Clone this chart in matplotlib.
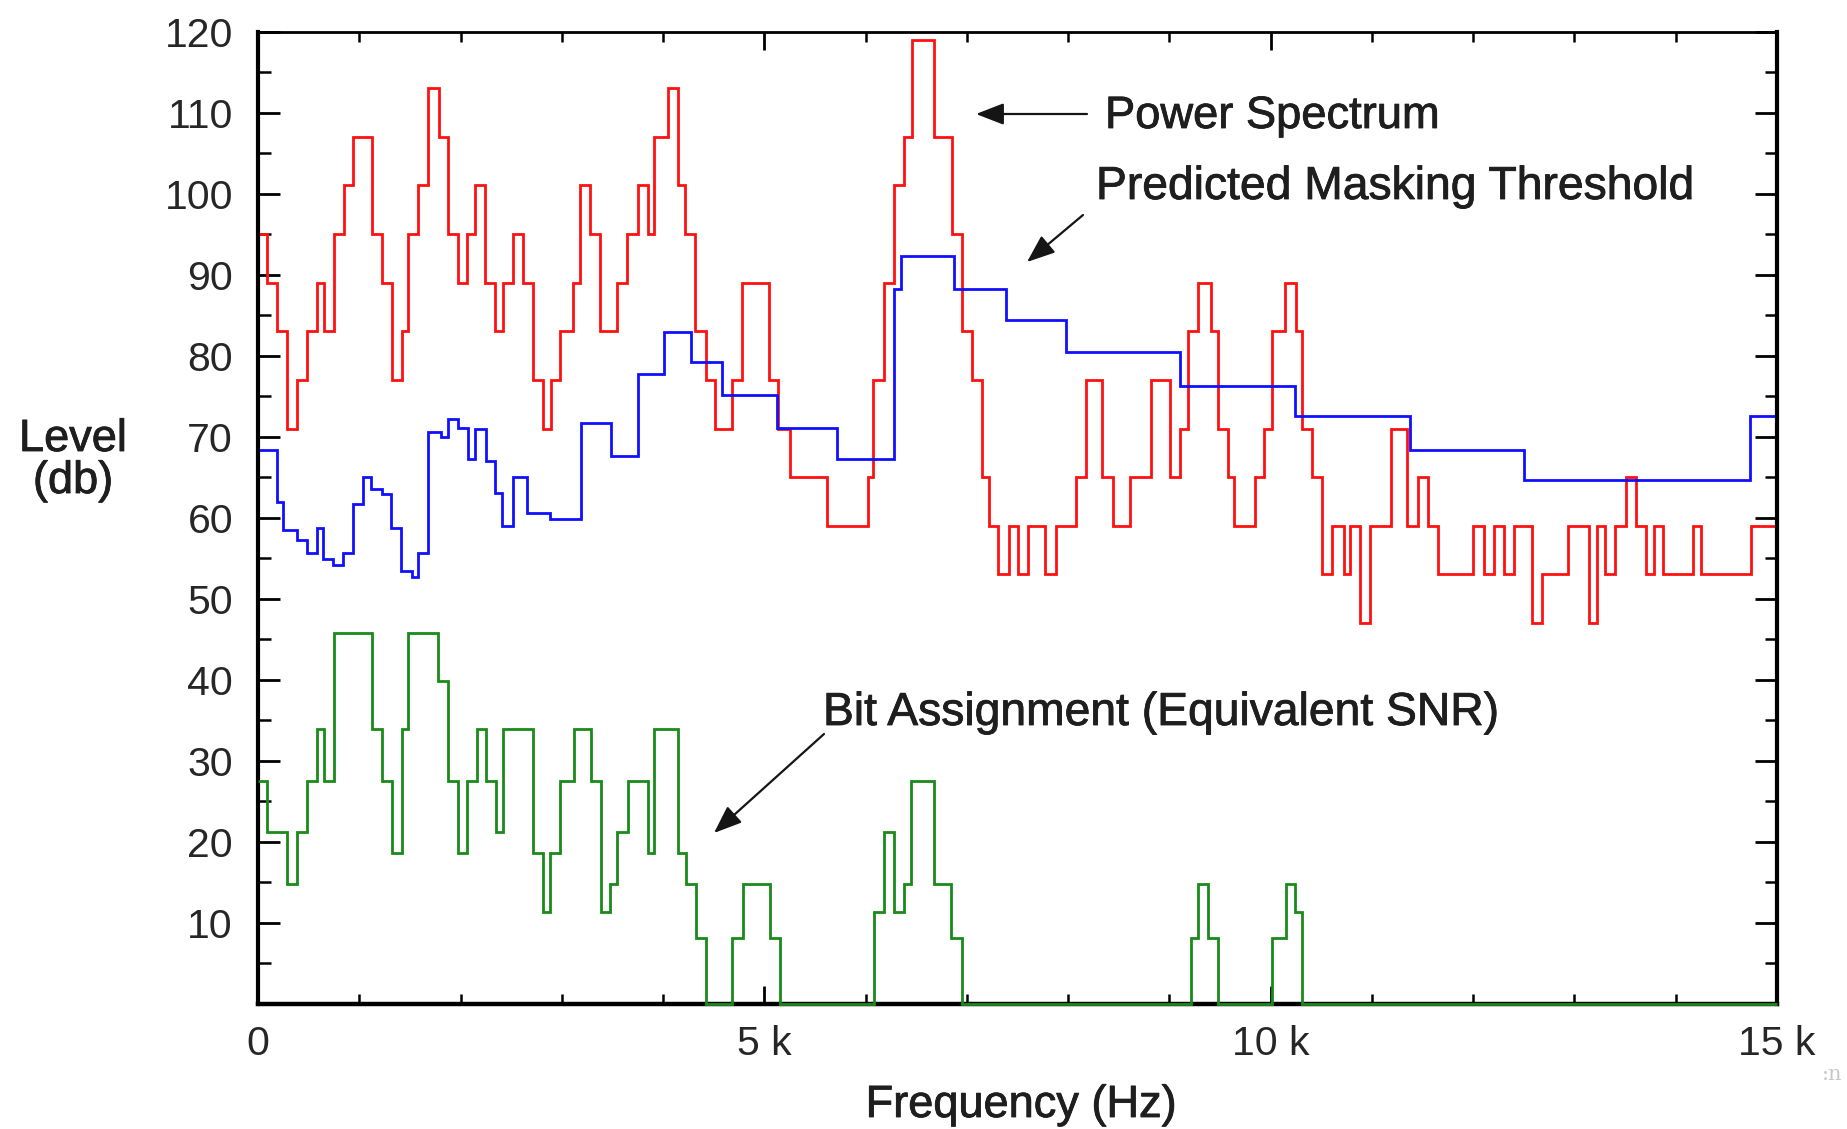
import matplotlib
matplotlib.use("Agg")
import matplotlib.pyplot as plt
import matplotlib.patheffects as pe
from matplotlib.ticker import FixedLocator, MultipleLocator, FuncFormatter

# ---------------------------------------------------------------- data
# Step edges in kHz and the level of each step in dB.
power_edges = [0.0, 0.086, 0.184, 0.283, 0.382, 0.481, 0.579, 0.655, 0.754, 0.852,
               0.941, 1.122, 1.221, 1.320, 1.419, 1.484, 1.583, 1.682, 1.787, 1.879,
               1.978, 2.060, 2.143, 2.242, 2.340, 2.423, 2.521, 2.620, 2.719, 2.811,
               2.890, 2.982, 3.114, 3.180, 3.278, 3.377, 3.542, 3.640, 3.749, 3.848,
               3.914, 4.052, 4.151, 4.216, 4.315, 4.421, 4.513, 4.677, 4.783, 5.046,
               5.138, 5.253, 5.615, 6.020, 6.076, 6.185, 6.283, 6.382, 6.455, 6.679,
               6.856, 6.948, 7.047, 7.146, 7.218, 7.310, 7.416, 7.508, 7.600, 7.771,
               7.877, 8.074, 8.173, 8.337, 8.446, 8.611, 8.818, 9.006, 9.104, 9.180,
               9.279, 9.411, 9.476, 9.575, 9.641, 9.845, 9.937, 10.010, 10.141, 10.247,
               10.306, 10.405, 10.503, 10.602, 10.727, 10.783, 10.882, 10.981, 11.188, 11.343,
               11.451, 11.550, 11.649, 12.001, 12.110, 12.208, 12.307, 12.406, 12.584, 12.676,
               12.939, 13.143, 13.219, 13.301, 13.400, 13.509, 13.604, 13.706, 13.788, 13.877,
               14.173, 14.249, 14.743, 15.0]
power_db = [95, 89, 83, 71, 77, 83, 89, 83, 95, 101,
            107, 95, 89, 77, 83, 95, 101, 113, 107, 95,
            89, 95, 101, 89, 83, 89, 95, 89, 77, 71,
            77, 83, 89, 101, 95, 83, 89, 95, 101, 95,
            107, 113, 101, 95, 83, 77, 71, 77, 89, 77,
            71, 65, 59, 65, 77, 89, 101, 107, 119, 107,
            95, 83, 77, 65, 59, 53, 59, 53, 59, 53,
            59, 65, 77, 65, 59, 65, 77, 65, 71, 83,
            89, 83, 71, 65, 59, 65, 71, 83, 89, 83,
            71, 65, 53, 59, 53, 59, 47, 59, 71, 59,
            65, 59, 53, 59, 53, 59, 53, 59, 47, 53,
            59, 47, 59, 53, 59, 65, 59, 53, 59, 53,
            59, 53, 59]

mask_edges = [0.0, 0.184, 0.250, 0.382, 0.481, 0.579, 0.645, 0.744, 0.843, 0.941,
              1.040, 1.116, 1.221, 1.313, 1.412, 1.517, 1.583, 1.675, 1.807, 1.879,
              1.978, 2.070, 2.143, 2.248, 2.340, 2.413, 2.521, 2.653, 2.883, 3.189,
              3.486, 3.749, 4.012, 4.276, 4.578, 5.122, 5.714, 6.283, 6.349, 6.876,
              7.383, 7.975, 9.104, 10.240, 11.376, 12.504, 14.733, 15.0]
mask_db = [68.4, 62.0, 58.5, 57.2, 55.7, 58.7, 54.9, 54.2, 55.7, 61.7,
           65.0, 63.6, 62.9, 58.7, 53.4, 52.7, 55.7, 70.6, 70.0, 72.2,
           71.1, 67.3, 71.0, 67.0, 63.1, 59.0, 65.0, 60.6, 59.9, 71.7,
           67.6, 77.7, 82.9, 79.2, 75.2, 71.1, 67.3, 88.2, 92.3, 88.2,
           84.4, 80.4, 76.2, 72.5, 68.4, 64.6, 72.5]

bits_edges = [0.0, 0.086, 0.283, 0.382, 0.481, 0.579, 0.655, 0.754, 1.122, 1.221,
              1.320, 1.419, 1.484, 1.781, 1.879, 1.978, 2.060, 2.159, 2.248, 2.347,
              2.423, 2.719, 2.818, 2.883, 2.982, 3.124, 3.288, 3.387, 3.476, 3.542,
              3.650, 3.854, 3.914, 4.151, 4.223, 4.322, 4.421, 4.684, 4.786, 5.056,
              5.155, 6.086, 6.185, 6.283, 6.382, 6.448, 6.679, 6.843, 6.948, 9.213,
              9.286, 9.384, 9.483, 10.010, 10.148, 10.240, 10.312, 15.0]
bits_db = [27.5, 21.2, 14.8, 21.2, 27.5, 33.9, 27.5, 45.8, 33.9, 27.5,
           18.6, 33.9, 45.8, 39.9, 27.5, 18.6, 27.5, 33.9, 27.5, 21.2,
           33.9, 18.6, 11.3, 18.6, 27.5, 33.9, 27.5, 11.3, 14.8, 21.2,
           27.5, 18.6, 33.9, 18.6, 14.8, 8.1, 0, 8.1, 14.8, 8.1,
           0, 11.3, 21.2, 11.3, 14.8, 27.5, 14.8, 8.1, 0, 8.1,
           14.8, 8.1, 0, 8.1, 14.8, 11.3, 0]

y_ticks = list(range(0, 121, 10))
x_ticks = [0, 5, 10, 15]
x_tick_labels = ["0", "5 k", "10 k", "15 k"]

# ---------------------------------------------------------------- figure
W, H, DPI = 1847, 1129, 100
plt.rcParams["font.family"] = ["Liberation Sans", "DejaVu Sans"]

fig = plt.figure(figsize=(W / DPI, H / DPI), dpi=DPI)
fig.patch.set_facecolor("white")


def fx(px):
    return px / W


def fy(py):
    return 1 - py / H


ax = fig.add_axes([fx(258), fy(1004), (1777 - 258) / W, (1004 - 31.5) / H])
ax.set_xlim(0, 15)
ax.set_ylim(0, 120)

ax.stairs(power_db, power_edges, baseline=None, color="#ff1010", lw=2.0, zorder=2)
ax.stairs(mask_db, mask_edges, baseline=None, color="#1010ff", lw=2.0, zorder=2.2)
ax.stairs(bits_db, bits_edges, baseline=None, color="#1a8a1a", lw=2.0,
          zorder=3, clip_on=False)

# axes frame and ticks
for side, w in (("left", 3.0), ("bottom", 3.2), ("right", 3.0), ("top", 2.0)):
    ax.spines[side].set_linewidth(w)
    ax.spines[side].set_color("black")

ax.yaxis.set_major_locator(FixedLocator(y_ticks))
ax.yaxis.set_major_formatter(FuncFormatter(lambda v, p: "" if v == 0 else f"{int(v)}"))
ax.yaxis.set_minor_locator(MultipleLocator(5))
ax.xaxis.set_major_locator(FixedLocator(x_ticks))
ax.set_xticklabels(x_tick_labels)
ax.xaxis.set_minor_locator(MultipleLocator(1))

ax.tick_params(which="both", direction="in", top=True, right=True, colors="black")
ax.tick_params(axis="y", which="major", length=16, width=2.0, pad=18,
               labelsize=29.5, labelcolor="#262626")
ax.tick_params(axis="y", which="minor", length=9, width=1.8)
ax.tick_params(axis="x", which="major", length=13, width=2.0, pad=15,
               labelsize=29.5, labelcolor="#262626")
ax.tick_params(axis="x", which="minor", length=7, width=1.8)

# slightly heavier glyphs for the titles and annotations
heavy = [pe.withStroke(linewidth=0.6, foreground="#1e1e1e")]

# axis titles
ttl = dict(color="#1e1e1e", fontsize=32.5, path_effects=heavy)
fig.text(fx(73), fy(451), "Level", ha="center", va="baseline", **ttl)
fig.text(fx(73), fy(493), "(db)", ha="center", va="baseline", **ttl)
fig.text(fx(1021), fy(1117), "Frequency (Hz)", ha="center", va="baseline", **ttl)

# curve annotations
ann = dict(color="#1e1e1e", fontsize=33.3, path_effects=heavy)
fig.text(fx(1105), fy(128), "Power Spectrum", ha="left", va="baseline",
         **dict(ann, fontsize=32.6))
fig.text(fx(1096), fy(199), "Predicted Masking Threshold", ha="left", va="baseline", **ann)
fig.text(fx(823), fy(725), "Bit Assignment (Equivalent SNR)", ha="left", va="baseline", **ann)

arrow = dict(arrowstyle="-|>,head_length=0.9,head_width=0.35", color="#151515",
             lw=1.6, shrinkA=0, shrinkB=0)
for (x0, y0), (x1, y1) in (((1087, 114), (976, 114)),
                           ((1083, 215), (1027, 262)),
                           ((824, 734), (714, 833))):
    ax.annotate("", xy=(x1, H - y1), xytext=(x0, H - y0),
                xycoords="figure pixels", textcoords="figure pixels",
                arrowprops=dict(arrow, mutation_scale=19))

fig.text(fx(1822), fy(1080), ":n", color="#c8c8c8", fontsize=15,
         family="DejaVu Serif", ha="left", va="baseline")

fig.savefig("out.png", dpi=DPI)
